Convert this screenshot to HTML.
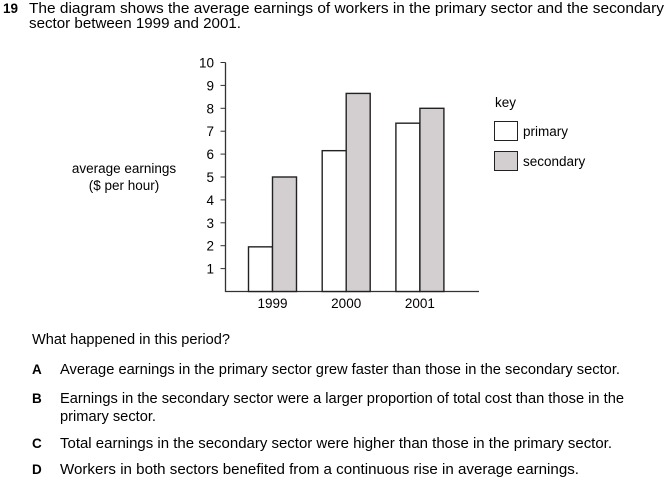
<!DOCTYPE html>
<html><head><meta charset="utf-8"><style>
body{margin:0;background:#fff;}
svg{display:block;font-family:"Liberation Sans",Arial,sans-serif;}
</style></head><body>
<svg id="c" width="670" height="494" xmlns="http://www.w3.org/2000/svg" font-size="13" fill="#000">
<g font-size="14.5">
<text x="3" y="13" font-weight="bold" font-size="13.5">19</text>
<text x="29" y="13" textLength="635" lengthAdjust="spacingAndGlyphs">The diagram shows the average earnings of workers in the primary sector and the secondary</text>
<text x="29" y="28" textLength="212" lengthAdjust="spacingAndGlyphs">sector between 1999 and 2001.</text>
</g>
<g text-anchor="middle" font-size="13.5">
<text x="124" y="173">average earnings</text>
<text x="124" y="190">($ per hour)</text>
</g>
<g id="chart"></g>
<g font-size="13.5">
<text x="495" y="107">key</text>
<rect x="494.5" y="121.5" width="23" height="19" fill="#fff" stroke="#222"/>
<text x="523" y="136">primary</text>
<rect x="494.5" y="151.5" width="23" height="19" fill="#d3cfd0" stroke="#222"/>
<text x="523" y="166">secondary</text>
</g>
<g font-size="14.5">
<text x="32" y="344" textLength="198" lengthAdjust="spacingAndGlyphs">What happened in this period?</text>
<text x="32" y="374" font-weight="bold" font-size="13.5">A</text>
<text x="60" y="374" textLength="560" lengthAdjust="spacingAndGlyphs">Average earnings in the primary sector grew faster than those in the secondary sector.</text>
<text x="32" y="403" font-weight="bold" font-size="13.5">B</text>
<text x="60" y="403" textLength="564" lengthAdjust="spacingAndGlyphs">Earnings in the secondary sector were a larger proportion of total cost than those in the</text>
<text x="60" y="421" textLength="96" lengthAdjust="spacingAndGlyphs">primary sector.</text>
<text x="32" y="448" font-weight="bold" font-size="13.5">C</text>
<text x="60" y="448" textLength="552" lengthAdjust="spacingAndGlyphs">Total earnings in the secondary sector were higher than those in the primary sector.</text>
<text x="32" y="474" font-weight="bold" font-size="13.5">D</text>
<text x="60" y="474" textLength="519" lengthAdjust="spacingAndGlyphs">Workers in both sectors benefited from a continuous rise in average earnings.</text>
</g>
</svg>
<script>
const categories=["1999","2000","2001"];
const primary=[1.95,6.15,7.35];
const secondary=[5.0,8.65,8.0];
const yTicks=[1,2,3,4,5,6,7,8,9,10];
const NS="http://www.w3.org/2000/svg";
const g=document.getElementById("chart");
const x0=225.5,y0=291.5,unit=22.9;
const y=v=>y0-v*unit;
const groupX=i=>248.5+i*73.7;
const bw=24;
function mk(t,a){const e=document.createElementNS(NS,t);for(const k in a)e.setAttribute(k,a[k]);g.appendChild(e);return e;}
const ax=mk("path",{d:`M${x0} ${y(10)}V${y0}H479`,stroke:"#333","stroke-width":1.3,fill:"none"});


yTicks.forEach(v=>{
 const t=mk("line",{x1:x0-5,x2:x0,y1:y(v),y2:y(v),stroke:"#333"});
 
 
 const l=mk("text",{x:214,y:y(v)+5,"text-anchor":"end","font-size":13.5});l.textContent=v;
 
 
});
categories.forEach((c,i)=>{
 const gx=groupX(i);
 const b1=mk("rect",{x:gx,y:y(primary[i]),width:bw,height:primary[i]*unit,fill:"#fff",stroke:"#222","stroke-width":1.4});
 
 
 const b2=mk("rect",{x:gx+bw,y:y(secondary[i]),width:bw,height:secondary[i]*unit,fill:"#d3cfd0",stroke:"#222","stroke-width":1.4});
 
 
 const l=mk("text",{x:gx+bw,y:308,"text-anchor":"middle","font-size":13.5});l.textContent=c;
 
 
});
</script>
</body></html>
